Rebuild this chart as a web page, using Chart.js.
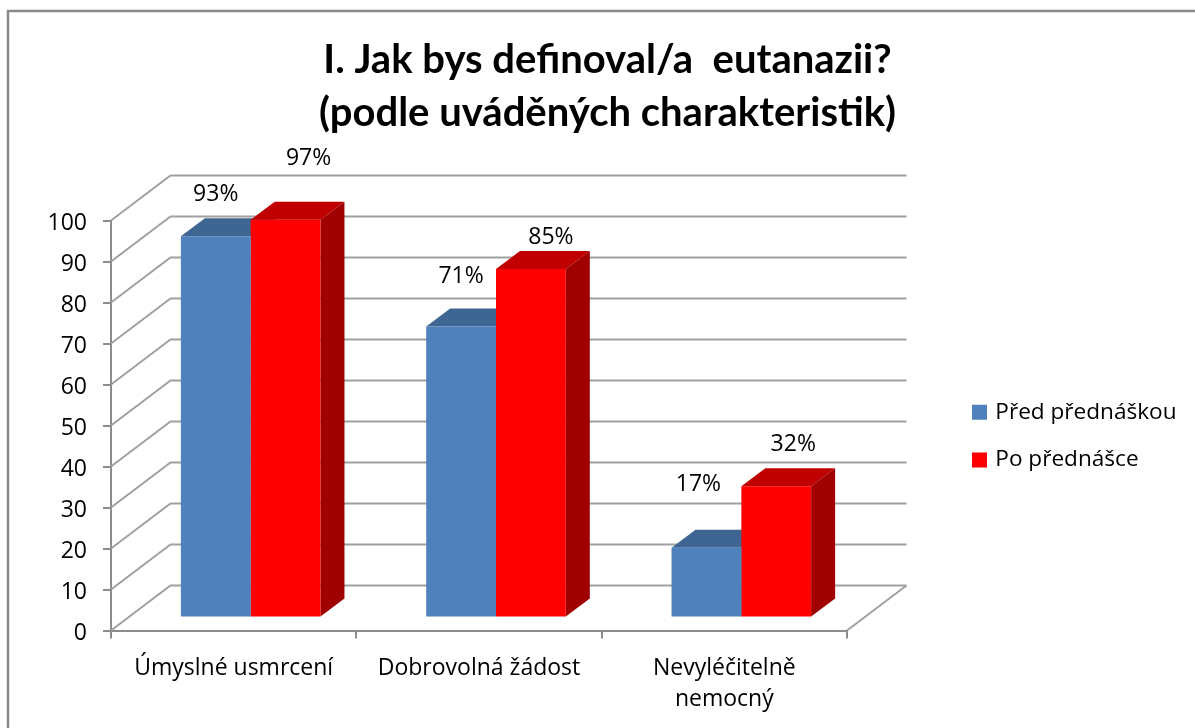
<!DOCTYPE html>
<html>
<head>
<meta charset="utf-8">
<style>html,body{margin:0;padding:0;background:#fff}canvas{display:block}</style>
<script src="https://cdn.jsdelivr.net/npm/chart.js@4"></script>
</head>
<body>
<canvas id="c" width="1195" height="728"></canvas>
<script>
const categories = ["Úmyslné usmrcení", "Dobrovolná žádost", ["Nevyléčitelně", "nemocný"]];
const seriesNames = ["Před přednáškou", "Po přednášce"];
const beforeValues = [93, 71, 17];
const afterValues = [97, 85, 32];
const yMin = 0, yMax = 100, yStep = 10;
const titleLines = ["I. Jak bys definoval/a  eutanazii?", "(podle uváděných charakteristik)"];

const FONT = "'Open Sans', sans-serif";
const TITLE_FONT = "Lato, sans-serif";
const GRID = "#a0a0a0", AXIS = "#8c8c8c";
const WALL = {dx: 59.5, dy: -45};
const BAR_SHIFT = {dx: 17, dy: -13};
const BAR_DEPTH = {dx: 24, dy: -18};
const shades = [{top: "#3f6592", side: "#3f6592"}, {top: "#c00000", side: "#a00000"}];
const labelNudges = [
  [[0, -42], [0, -50], [-8, -63]],
  [[23, -61], [20, -32], [17, -42]]
];

function poly(ctx, pts, fill) {
  ctx.beginPath();
  pts.forEach((p, i) => i ? ctx.lineTo(p[0], p[1]) : ctx.moveTo(p[0], p[1]));
  ctx.closePath();
  ctx.fillStyle = fill;
  ctx.fill();
}

const frame3d = {
  id: "frame3d",
  afterLayout(chart) {
    const lg = chart.legend;
    lg.left = 950; lg.right = 1195; lg.top = 376; lg.bottom = 700;
    const t = chart.titleBlock;
    t.left += 184; t.right += 184;
  },
  beforeDraw(chart) {
    const c = chart.ctx;
    c.save();
    c.strokeStyle = "#8a8a8a";
    c.lineWidth = 2.5;
    c.beginPath();
    c.moveTo(8, 728); c.lineTo(8, 11); c.lineTo(1195, 11);
    c.stroke();
    c.restore();
  },
  beforeDatasetsDraw(chart) {
    const c = chart.ctx, y = chart.scales.y, a = chart.chartArea;
    c.save();
    c.strokeStyle = GRID;
    c.lineWidth = 2;
    y.ticks.forEach(t => {
      const py = y.getPixelForValue(t.value);
      c.beginPath();
      c.moveTo(a.left, py);
      c.lineTo(a.left + WALL.dx, py + WALL.dy);
      c.lineTo(a.right + WALL.dx, py + WALL.dy);
      c.stroke();
    });
    c.beginPath();
    c.moveTo(a.right, a.bottom);
    c.lineTo(a.right + WALL.dx, a.bottom + WALL.dy);
    c.stroke();
    c.restore();

    c.save();
    c.translate(BAR_SHIFT.dx, BAR_SHIFT.dy);
    chart.data.datasets.forEach((ds, i) => {
      chart.getDatasetMeta(i).data.forEach(b => {
        const l = b.x - b.width / 2, r = b.x + b.width / 2, d = BAR_DEPTH;
        poly(c, [[l, b.y], [r, b.y], [r + d.dx, b.y + d.dy], [l + d.dx, b.y + d.dy]], shades[i].top);
        poly(c, [[r, b.y], [r + d.dx, b.y + d.dy], [r + d.dx, b.base + d.dy], [r, b.base]], shades[i].side);
      });
    });
  },
  afterDatasetsDraw(chart) {
    const c = chart.ctx;
    c.restore();
    c.save();
    c.font = "23px " + FONT;
    c.fillStyle = "#000";
    c.textAlign = "center";
    c.textBaseline = "middle";
    chart.data.datasets.forEach((ds, i) => {
      chart.getDatasetMeta(i).data.forEach((b, j) => {
        const n = labelNudges[i][j];
        c.fillText(ds.data[j] + "%", b.x + BAR_SHIFT.dx + n[0], b.y + BAR_SHIFT.dy + n[1]);
      });
    });
    c.restore();
  }
};

new Chart(document.getElementById("c"), {
  type: "bar",
  data: {
    labels: categories,
    datasets: [
      {label: seriesNames[0], data: beforeValues, backgroundColor: "#4f81bd", clip: false},
      {label: seriesNames[1], data: afterValues, backgroundColor: "#ff0000", clip: false}
    ]
  },
  options: {
    responsive: false,
    animation: false,
    devicePixelRatio: 1,
    layout: {padding: {right: 348}},
    datasets: {bar: {categoryPercentage: 0.569, barPercentage: 1}},
    plugins: {
      tooltip: {enabled: false},
      title: {
        display: true,
        text: titleLines,
        color: "#000",
        font: {family: TITLE_FONT, size: 40, weight: "bold", lineHeight: 53 / 40},
        padding: {top: 33.5, bottom: 81}
      },
      legend: {
        position: "chartArea",
        align: "start",
        labels: {
          color: "#000",
          boxWidth: 9, boxHeight: 9,
          padding: 25,
          font: {family: FONT, size: 22.6, lineHeight: 24 / 22.6},
          generateLabels(chart) {
            return Chart.defaults.plugins.legend.labels.generateLabels(chart).map(it => {
              it.strokeStyle = it.fillStyle;
              it.lineWidth = 6;
              return it;
            });
          }
        }
      }
    },
    scales: {
      x: {
        afterFit(s) { s.height = 728 - 630.5; },
        grid: {drawOnChartArea: false, color: AXIS, lineWidth: 2, tickLength: 8, tickColor: AXIS},
        border: {color: AXIS, width: 2},
        ticks: {color: "#000", maxRotation: 0, padding: 14, font: {family: FONT, size: 23, lineHeight: 31 / 23}}
      },
      y: {
        min: yMin, max: yMax,
        afterFit(s) { s.width = 111; },
        grid: {drawOnChartArea: false, color: AXIS, lineWidth: 2, tickLength: 8, tickColor: AXIS},
        border: {color: AXIS, width: 2},
        ticks: {stepSize: yStep, color: "#000", padding: 16, labelOffset: 3, font: {family: FONT, size: 23}}
      }
    }
  },
  plugins: [frame3d]
});
</script>
</body>
</html>
